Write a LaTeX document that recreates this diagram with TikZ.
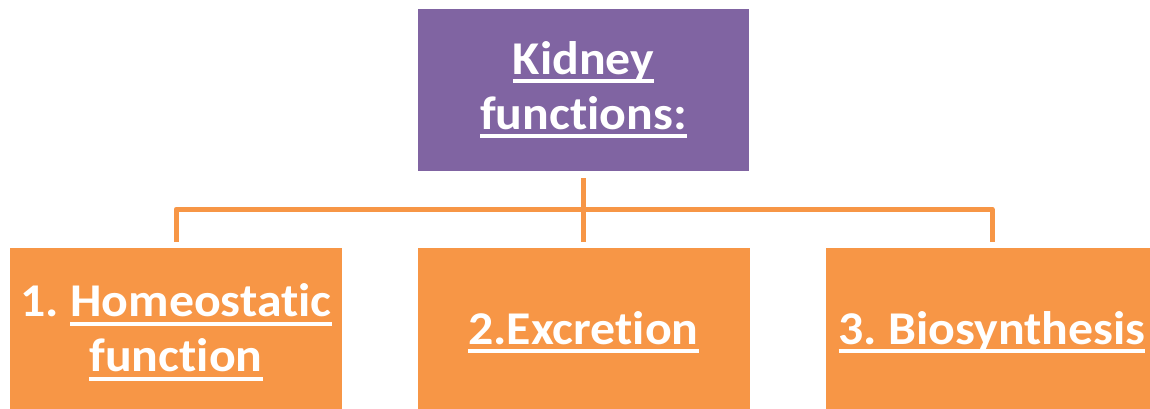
\documentclass[tikz,border=0pt]{standalone}
\usepackage{fontspec}
\setmainfont{Carlito}[RawFeature=-liga,FakeStretch=1.06]
\usepackage{tikz}
\definecolor{kpurple}{HTML}{8064A2}
\definecolor{korange}{HTML}{F79646}
\newcommand\undl[1]{\setbox0\hbox{#1}\rlap{\rule[-9pt]{\wd0}{4pt}}\box0}
\newcommand\hstrut{\rule{0pt}{39pt}}
\tikzstyle{box}=[rectangle,fill=korange,text=white,align=center,inner sep=0pt,
  minimum width=332pt,minimum height=162pt,font=\fontsize{47}{55}\selectfont\bfseries]
\frenchspacing

\begin{document}
\begin{tikzpicture}[x=1pt,y=-1pt]
\tikzstyle{link}=[draw=korange,line width=5pt,line join=round,shorten <=7pt,shorten >=6pt]
  \useasboundingbox (0,0) rectangle (1150,408);
  \clip (0,0) rectangle (1150,408);
  \node[box,fill=kpurple,minimum width=331pt] (top) at (583.5,90) {\undl{Kidney}\\\undl{functions:}};
  \foreach \place/\name/\txt in {{(176,329)/homeo/{\hstrut1. \undl{Homeostatic}\\\undl{function}}},
                                 {(583.5,329)/excr/{\hstrut\undl{2.Excretion}}},
                                 {(992,329)/biosyn/{\hstrut\undl{3. Biosynthesis}}}}
    \node[box] (\name) at \place {\txt};
  \foreach \dest in {homeo,excr,biosyn}
      \path[link] (top.south) -- ++(0,38) -| (\dest.north);
\end{tikzpicture}
\end{document}
